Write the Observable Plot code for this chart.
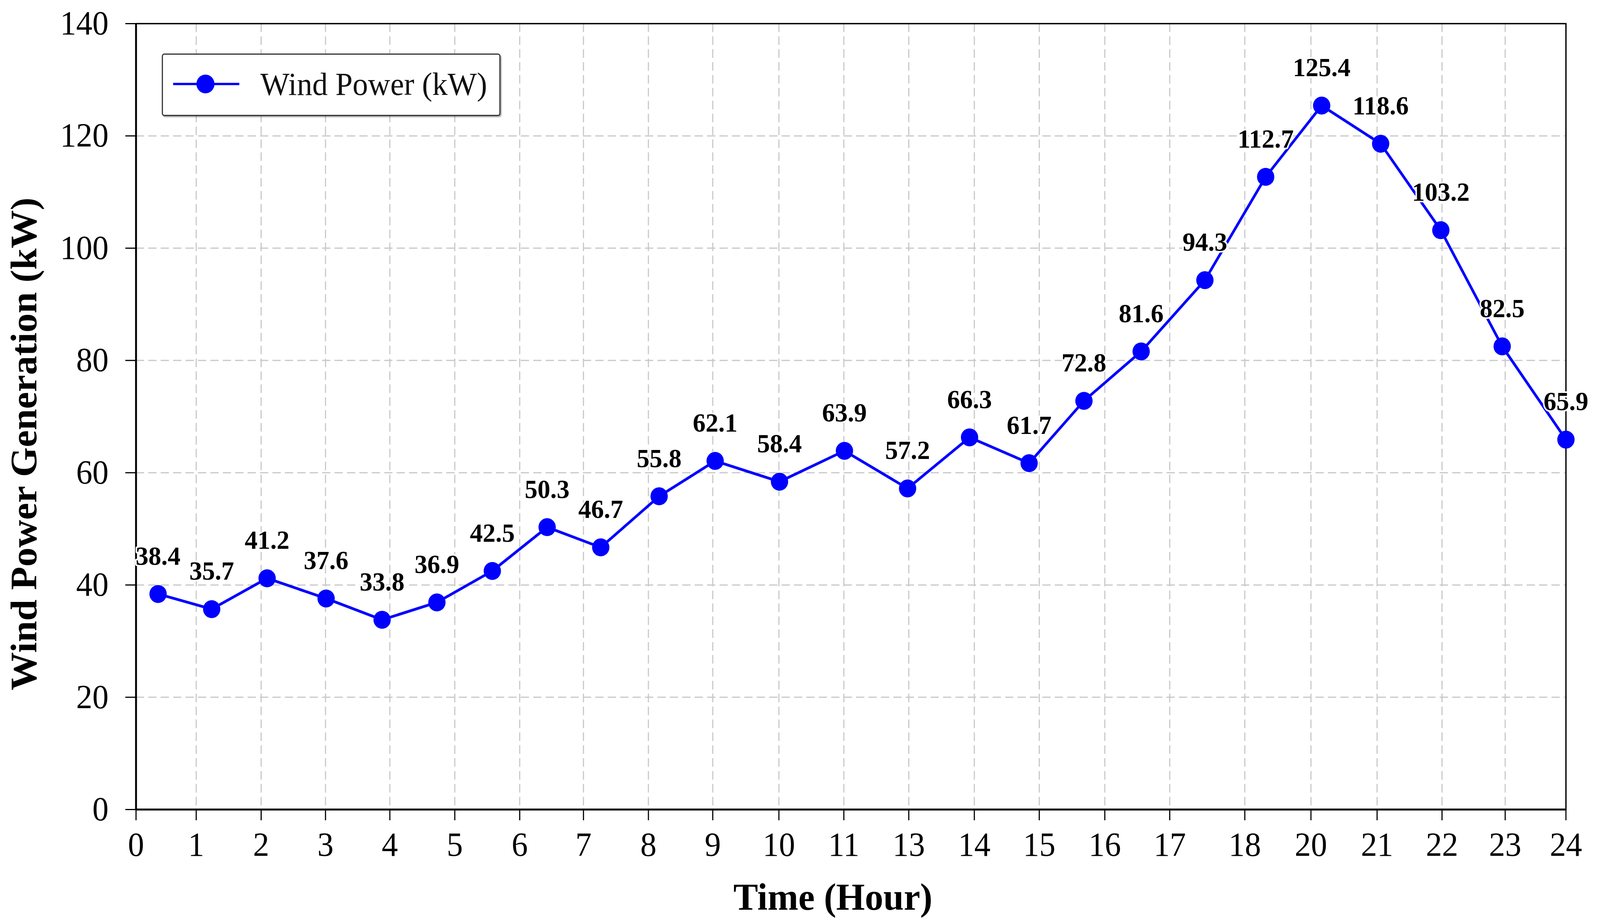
<!DOCTYPE html>
<html>
<head>
<meta charset="utf-8">
<script src="https://cdn.jsdelivr.net/npm/d3@7"></script>
<script src="https://cdn.jsdelivr.net/npm/@observablehq/plot@0.6"></script>
<style>
  html, body { margin: 0; padding: 0; background: white; overflow: hidden; }
  #wrap { position: relative; width: 4252px; height: 2363px; transform-origin: 0 0; }
  #chart svg { display: block; }
  #legend {
    position: absolute; left: 430px; top: 137px; width: 900px; height: 160px;
    box-sizing: border-box; border: 3px solid #333; border-radius: 7px; background: white;
    box-shadow: 2px 3px 3px rgba(0,0,0,0.35);
    font-family: 'Liberation Serif', 'Times New Roman', serif;
  }
  #legend svg { position: absolute; left: 27px; top: 45px; }
  #legend span { position: absolute; left: 259px; top: 35px; font-size: 82px; line-height: 1; white-space: nowrap; color: #111; }
</style>
</head>
<body>
<div id="wrap">
  <div id="chart"></div>
  <div id="legend">
    <svg width="180" height="60"><line x1="0" x2="176" y1="30" y2="30" stroke="blue" stroke-width="6"/><circle cx="86" cy="30" r="24" fill="blue"/></svg>
    <span>Wind Power (kW)</span>
  </div>
</div>
<script>
// x-axis tick positions (along the axis) and their printed labels
const xTickPos = [0, 1.01, 2.10, 3.18, 4.26, 5.35, 6.44, 7.51, 8.60, 9.68, 10.79, 11.88, 12.97, 14.07, 15.16, 16.26, 17.35, 18.61, 19.72, 20.83, 21.92, 22.98, 24];
const xTickLabels = ["0","1","2","3","4","5","6","7","8","9","10","11","13","14","15","16","17","18","20","21","22","23","24"];
const yTicks = [0, 20, 40, 60, 80, 100, 120, 140];
const yGrid = [20, 40, 60, 80, 100, 120];

// data point positions along the x axis and wind power values (kW)
const hourPos = [0.37, 1.27, 2.20, 3.19, 4.13, 5.05, 5.98, 6.90, 7.80, 8.78, 9.72, 10.80, 11.89, 12.95, 13.99, 14.99, 15.91, 16.87, 17.94, 18.96, 19.90, 20.89, 21.90, 22.93, 24.0];
const windPower = [38.4, 35.7, 41.2, 37.6, 33.8, 36.9, 42.5, 50.3, 46.7, 55.8, 62.1, 58.4, 63.9, 57.2, 66.3, 61.7, 72.8, 81.6, 94.3, 112.7, 125.4, 118.6, 103.2, 82.5, 65.9];

const xTitle = "Time (Hour)";
const yTitle = "Wind Power Generation (kW)";

const data = hourPos.map((x, i) => ({x, v: windPower[i]}));
const labelMap = new Map(xTickPos.map((p, i) => [p, xTickLabels[i]]));

const gridStyle = {stroke: "#c8c8c8", strokeOpacity: 1, strokeWidth: 3, strokeDasharray: "22,11"};

const chart = Plot.plot({
  width: 4252,
  height: 2363,
  marginLeft: 361,
  marginRight: 91,
  marginTop: 60,
  marginBottom: 291,
  x: {domain: [0, 24]},
  y: {domain: [0, 140]},
  style: {fontFamily: "'Liberation Serif', 'Times New Roman', serif", fontSize: "86px", background: "white", color: "black", maxWidth: "none"},
  marks: [
    Plot.gridX(xTickPos, gridStyle),
    Plot.gridY(yGrid, gridStyle),
    Plot.frame({stroke: "black", strokeWidth: 3.5}),
    Plot.ruleY([0], {stroke: "black", strokeWidth: 5}),
    Plot.ruleX([0], {stroke: "black", strokeWidth: 5}),
    Plot.axisX({ticks: xTickPos, tickFormat: d => labelMap.get(d), tickSize: 28, tickPadding: 29, fontSize: 86, strokeWidth: 3, label: null}),
    Plot.axisY({ticks: yTicks, tickSize: 28, tickPadding: 45, fontSize: 86, strokeWidth: 3, label: null}),
    Plot.line(data, {x: "x", y: "v", stroke: "blue", strokeWidth: 7}),
    Plot.dot(data, {x: "x", y: "v", r: 23, fill: "blue"}),
    Plot.text(data, {
      x: "x", y: "v", text: d => d.v.toFixed(1), dy: -75, lineAnchor: "bottom",
      fontWeight: "bold", fontSize: 68, fill: "black", stroke: "white", strokeWidth: 8, paintOrder: "stroke"
    }),
    Plot.text([xTitle], {frameAnchor: "bottom", text: d => d, textAnchor: "middle", dx: -48, dy: 256, lineAnchor: "bottom", fontWeight: "bold", fontSize: 98, fill: "black"}),
    Plot.text([yTitle], {frameAnchor: "left", text: d => d, textAnchor: "middle", rotate: -90, dx: -265, dy: 70, lineAnchor: "bottom", fontWeight: "bold", fontSize: 98, fill: "black"})
  ]
});
document.getElementById("chart").appendChild(chart);

// fit the 4252×2363 layout into the actual viewport
const sx = Math.min(1, window.innerWidth / 4252);
const sy = Math.min(1, window.innerHeight / 2363);
document.getElementById("wrap").style.transform = `scale(${sx}, ${sy})`;
</script>
</body>
</html>
